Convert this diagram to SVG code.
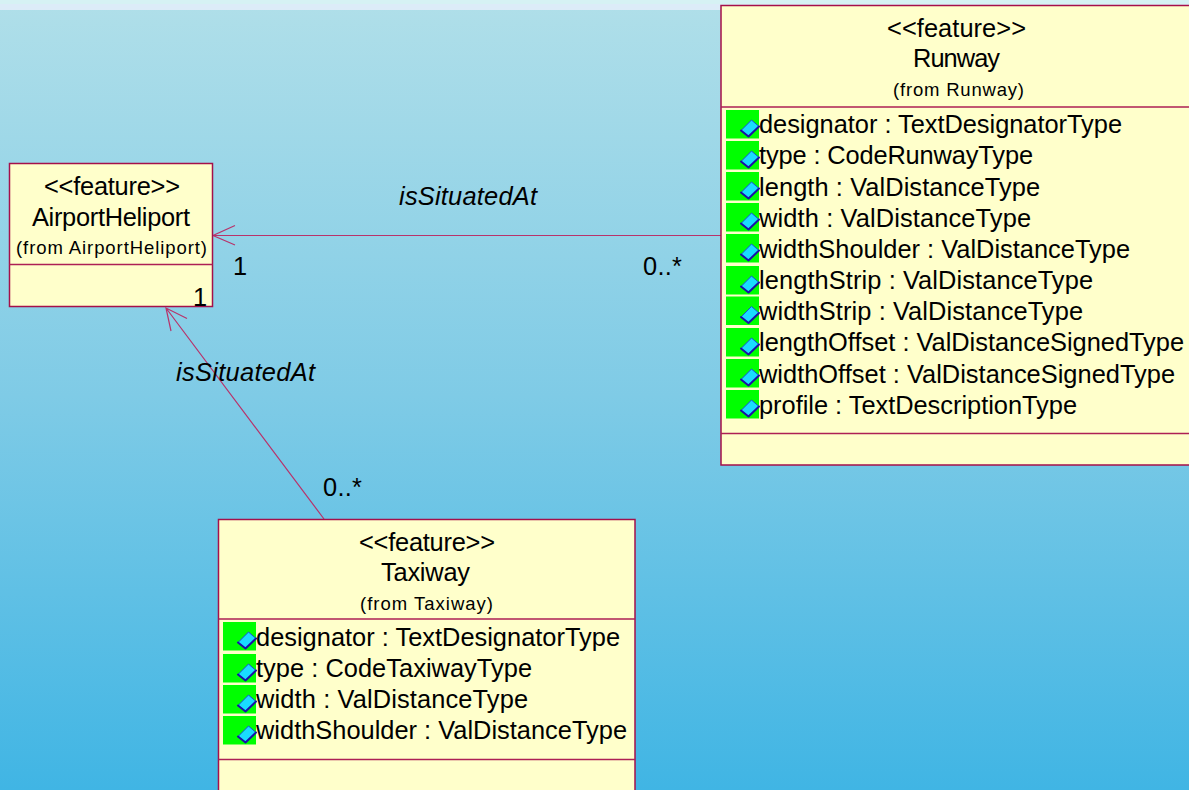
<svg xmlns="http://www.w3.org/2000/svg" width="1189" height="790" viewBox="0 0 1189 790">
<style>
text{font-family:"Liberation Sans",Arial,sans-serif;fill:#000}
.box{fill:#ffffcb;stroke:#a5104a;stroke-width:1.5}
.sep{stroke:#ad2055;stroke-width:1.4;fill:none}
.con{stroke:#b8336a;stroke-width:1.2;fill:none}
.m{font-size:25.4px}
.s{font-size:18.5px}
.a{font-size:25.4px}
.l{font-size:25.4px;font-style:italic}
.g{fill:#00ff00}
.d{fill:#19dcff;stroke:#1a4ad8;stroke-width:1;stroke-linejoin:round}
.e{fill:none;stroke:#1a10a8;stroke-width:2;stroke-linecap:round;stroke-linejoin:round}
</style>
<defs>
<linearGradient id="bg" x1="0" y1="0" x2="0" y2="1">
<stop offset="0" stop-color="#b0dfe9"/><stop offset="0.5" stop-color="#7fcbe6"/><stop offset="1" stop-color="#40b5e4"/>
</linearGradient>
<g id="icon"><rect class="g" x="0" y="0" width="33" height="28.500"/><path class="d" d="M15 20.500 L25.500 10 L33 16.500 L22.500 26.500 Z"/><path class="e" d="M15 20.500 L22.500 26.500 L33 16.500"/></g>
</defs>
<rect width="1189" height="790" fill="url(#bg)"/>
<rect width="1189" height="5" fill="#d6f2f4"/>
<rect y="4" width="1189" height="6" fill="#dcecf8"/>
<g id="connectors">
<path class="con" d="M721 235.500H213M235 225.500L213 235.500L235 245"/>
<path class="con" d="M324 519L166 308M187 318.500L166 308L171 331"/>
</g>
<g id="runway">
<rect class="box" x="721" y="5.500" width="480" height="459.500"/>
<path class="sep" d="M721 107H1189M721 433.500H1189"/>
<text class="m" x="887" y="37" textLength="139">&lt;&lt;feature&gt;&gt;</text>
<text class="m" x="913" y="67" textLength="87">Runway</text>
<text class="s" x="893" y="96" textLength="131">(from Runway)</text>
<use href="#icon" x="726" y="110"/><use href="#icon" x="726" y="141"/><use href="#icon" x="726" y="172"/><use href="#icon" x="726" y="203"/><use href="#icon" x="726" y="234"/><use href="#icon" x="726" y="266"/><use href="#icon" x="726" y="296.500"/><use href="#icon" x="726" y="328"/><use href="#icon" x="726" y="359"/><use href="#icon" x="726" y="390"/>
<text class="a" x="759" y="133" textLength="363">designator : TextDesignatorType</text>
<text class="a" x="759" y="164" textLength="274">type : CodeRunwayType</text>
<text class="a" x="759" y="196" textLength="281">length : ValDistanceType</text>
<text class="a" x="759" y="227" textLength="272">width : ValDistanceType</text>
<text class="a" x="759" y="258" textLength="371">widthShoulder : ValDistanceType</text>
<text class="a" x="759" y="289" textLength="334">lengthStrip : ValDistanceType</text>
<text class="a" x="759" y="320" textLength="324">widthStrip : ValDistanceType</text>
<text class="a" x="759" y="351" textLength="425">lengthOffset : ValDistanceSignedType</text>
<text class="a" x="759" y="383" textLength="416">widthOffset : ValDistanceSignedType</text>
<text class="a" x="759" y="414" textLength="318">profile : TextDescriptionType</text>
</g>
<g id="airportheliport">
<rect class="box" x="9.500" y="163.500" width="203" height="143"/>
<path class="sep" d="M9.500 264.500H212.500"/>
<text class="m" x="44" y="195" textLength="136">&lt;&lt;feature&gt;&gt;</text>
<text class="m" x="32" y="226" textLength="158">AirportHeliport</text>
<text class="s" x="16" y="254" textLength="191">(from AirportHeliport)</text>
</g>
<g id="taxiway">
<rect class="box" x="218.500" y="519.500" width="416.500" height="290"/>
<path class="sep" d="M218.500 619H635M218.500 759.500H635"/>
<text class="m" x="359" y="551" textLength="136">&lt;&lt;feature&gt;&gt;</text>
<text class="m" x="381" y="581" textLength="89">Taxiway</text>
<text class="s" x="360" y="610" textLength="133">(from Taxiway)</text>
<use href="#icon" x="223" y="622"/><use href="#icon" x="223" y="654"/><use href="#icon" x="223" y="685"/><use href="#icon" x="223" y="716"/>
<text class="a" x="256" y="646" textLength="364">designator : TextDesignatorType</text>
<text class="a" x="256" y="677" textLength="276">type : CodeTaxiwayType</text>
<text class="a" x="256" y="708" textLength="272">width : ValDistanceType</text>
<text class="a" x="256" y="739" textLength="371">widthShoulder : ValDistanceType</text>
</g>
<g id="labels">
<text class="l" x="399" y="205" textLength="138">isSituatedAt</text>
<text class="l" x="176" y="381" textLength="139">isSituatedAt</text>
<text class="a" x="233" y="275">1</text>
<text class="a" x="643" y="275" textLength="39">0..*</text>
<text class="a" x="193" y="306">1</text>
<text class="a" x="323" y="496" textLength="39">0..*</text>
</g>
</svg>
